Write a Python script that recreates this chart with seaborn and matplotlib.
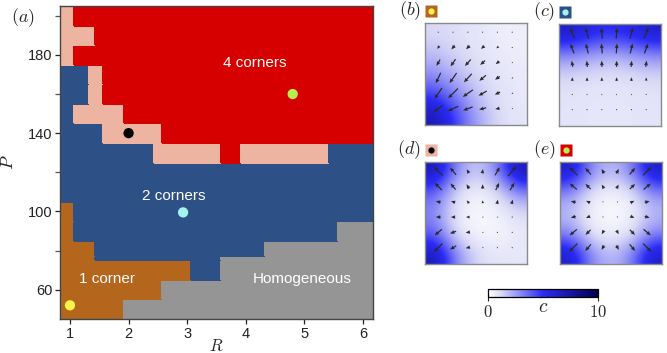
import numpy as np
import matplotlib
matplotlib.use("Agg")
import matplotlib.pyplot as plt
from matplotlib.colors import ListedColormap, LinearSegmentedColormap, BoundaryNorm
from matplotlib.ticker import FixedLocator
import seaborn as sns

# ---------------- phase diagram data ----------------
R_edges = [0.83, 1.07, 1.32, 1.43, 1.57, 1.92, 2.43, 2.57, 3.07, 3.57, 3.92, 4.32, 5.42, 5.57, 6.17]
P_edges = [205, 195, 185, 175, 165, 155, 145, 135, 125, 105, 95, 85, 77, 75, 65, 55, 45]
# one string per P band (top to bottom), one character per R band
# H = homogeneous, 1 = one corner, 2 = two corners, T = transition, 4 = four corners
phase_rows = [
    "T4444444444444",
    "TTT44444444444",
    "T4444444444444",
    "22TT4444444444",
    "22TT4444444444",
    "2TTTT444444444",
    "2222TTT4444444",
    "222222TTT4TT22",
    "22222222222222",
    "12222222222222",
    "1222222222222H",
    "11122222222HHH",
    "111222222HHHHH",
    "111111112HHHHH",
    "1111111HHHHHHH",
    "11111HHHHHHHHH",
]
phase_codes = "H12T4"
phase_colors = ["#959595", "#b3661c", "#2d5087", "#ecb4a1", "#d60000"]

region_labels = ["4 corners", "2 corners", "1 corner", "Homogeneous"]
label_R = [4.15, 2.77, 1.63, 4.97]
label_P = [176, 108, 65.5, 65.5]

point_names = ["b", "c", "d", "e"]
point_R = [1.0, 2.93, 2.0, 4.8]
point_P = [52, 99.5, 140, 160]
point_colors = ["#fff24a", "#a2f2f0", "#000000", "#b6ef4c"]
point_phase = ["1", "2", "T", "4"]

# ---------------- snapshot panels data ----------------
# concentration c on a coarse 5x5 grid (top row first)
conc = {
    "b": [[1.2, 1.0, 0.8, 0.6, 0.5],
          [1.8, 1.3, 0.9, 0.7, 0.6],
          [2.8, 1.9, 1.2, 0.8, 0.7],
          [4.5, 3.0, 1.7, 1.0, 0.7],
          [7.0, 4.5, 2.4, 1.2, 0.8]],
    "c": [[6.5, 5.5, 5.0, 5.5, 6.3],
          [3.0, 2.5, 2.2, 2.5, 3.0],
          [1.3, 1.1, 1.0, 1.1, 1.3],
          [0.9, 0.8, 0.8, 0.8, 0.9],
          [0.9, 0.8, 0.8, 0.8, 0.9]],
    "d": [[7.0, 3.0, 1.4, 3.0, 7.0],
          [3.8, 1.1, 0.4, 0.9, 3.0],
          [3.0, 0.7, 0.2, 0.4, 1.1],
          [3.8, 0.9, 0.3, 0.3, 0.7],
          [7.0, 3.0, 1.2, 0.8, 0.8]],
    "e": [[6.5, 3.0, 1.8, 3.0, 6.5],
          [3.0, 0.8, 0.4, 0.8, 3.0],
          [1.8, 0.4, 0.1, 0.4, 1.8],
          [3.0, 0.8, 0.4, 0.8, 3.0],
          [6.5, 3.0, 1.8, 3.0, 6.5]],
}

# arrow grid (6x6), rows listed top to bottom
arrow_x = [0.13, 0.275, 0.42, 0.565, 0.71, 0.855]
arrow_y = [0.91, 0.76, 0.61, 0.46, 0.31, 0.16]

arrow_len = {
    "b": [[0.05, 0.05, 0.05, 0.05, 0.05, 0.03],
          [0.25, 0.35, 0.35, 0.30, 0.20, 0.05],
          [0.50, 0.60, 0.60, 0.45, 0.30, 0.10],
          [0.80, 0.85, 0.80, 0.60, 0.40, 0.12],
          [0.90, 0.95, 0.85, 0.65, 0.40, 0.12],
          [0.75, 0.80, 0.70, 0.50, 0.30, 0.10]],
    "c": [[0.80, 0.80, 0.75, 0.75, 0.80, 0.80],
          [0.72, 0.70, 0.68, 0.68, 0.70, 0.72],
          [0.42, 0.42, 0.42, 0.42, 0.42, 0.42],
          [0.25, 0.25, 0.25, 0.25, 0.25, 0.22],
          [0.08, 0.10, 0.10, 0.10, 0.10, 0.08],
          [0.04, 0.04, 0.04, 0.04, 0.04, 0.04]],
    "d": [[0.85, 0.65, 0.30, 0.30, 0.65, 0.90],
          [0.70, 0.55, 0.35, 0.30, 0.55, 0.60],
          [0.35, 0.30, 0.25, 0.20, 0.30, 0.30],
          [0.35, 0.30, 0.25, 0.10, 0.10, 0.05],
          [0.65, 0.45, 0.30, 0.10, 0.05, 0.05],
          [0.80, 0.50, 0.30, 0.10, 0.05, 0.05]],
    "e": [[0.80, 0.60, 0.35, 0.35, 0.60, 0.80],
          [0.65, 0.50, 0.30, 0.30, 0.50, 0.65],
          [0.35, 0.30, 0.10, 0.10, 0.30, 0.35],
          [0.35, 0.30, 0.10, 0.10, 0.30, 0.35],
          [0.65, 0.50, 0.30, 0.30, 0.50, 0.65],
          [0.80, 0.60, 0.35, 0.35, 0.60, 0.80]],
}
# arrow direction in degrees (0 = right, 90 = up)
arrow_ang = {
    "b": [[225, 225, 225, 225, 225, 225],
          [235, 230, 225, 220, 220, 220],
          [240, 235, 228, 222, 218, 215],
          [245, 235, 228, 220, 215, 210],
          [235, 225, 215, 210, 205, 200],
          [215, 205, 200, 195, 190, 185]],
    "c": [[112, 105, 95, 85, 75, 68],
          [110, 104, 95, 86, 76, 70],
          [100, 97, 93, 88, 84, 80],
          [90, 90, 90, 90, 90, 90],
          [90, 90, 90, 90, 90, 90],
          [90, 90, 90, 90, 90, 90]],
    "d": [[135, 130, 120, 80, 60, 50],
          [135, 130, 120, 90, 65, 60],
          [165, 160, 130, 100, 80, 75],
          [180, 180, 180, 180, 180, 180],
          [220, 200, 190, 180, 180, 180],
          [225, 210, 195, 180, 180, 180]],
    "e": [[135, 130, 120, 60, 50, 45],
          [140, 135, 120, 60, 45, 40],
          [165, 155, 135, 45, 25, 15],
          [195, 205, 225, 315, 335, 345],
          [220, 225, 240, 300, 315, 320],
          [225, 230, 240, 300, 310, 315]],
}

# ---------------- figure ----------------
sns.set_theme(style="ticks")
plt.rcParams["font.family"] = ["Liberation Sans", "DejaVu Sans"]
plt.rcParams["mathtext.fontset"] = "cm"

W, H = 667, 353
fig = plt.figure(figsize=(W / 100, H / 100), dpi=100)
fig.patch.set_facecolor("white")


def px_axes(x0, y0, x1, y1):
    return fig.add_axes([x0 / W, 1 - y1 / H, (x1 - x0) / W, (y1 - y0) / H])


# main phase diagram
ax = px_axes(60, 6, 373, 319)
Z = np.array([[phase_codes.index(ch) for ch in row] for row in phase_rows[::-1]])
cmap_phase = ListedColormap(phase_colors)
norm_phase = BoundaryNorm(np.arange(-0.5, 5.5, 1), cmap_phase.N)
ax.pcolormesh(R_edges, P_edges[::-1], Z, cmap=cmap_phase, norm=norm_phase,
              shading="flat", edgecolor="face", linewidth=0.2)

palette = {n: c for n, c in zip(point_names, point_colors)}
sns.scatterplot(x=point_R, y=point_P, hue=point_names, palette=palette, s=55,
                linewidth=0, legend=False, ax=ax, zorder=3)

for txt, r, p in zip(region_labels, label_R, label_P):
    ax.text(r, p, txt, color="white", fontsize=11, ha="center", va="center")

ax.set_xlim(R_edges[0], R_edges[-1])
ax.set_ylim(45, 205)
ax.set_xticks([1, 2, 3, 4, 5, 6])
ax.set_yticks([60, 100, 140, 180])
ax.yaxis.set_minor_locator(FixedLocator([80, 120, 160, 200]))
ax.tick_params(axis="both", which="both", direction="out", length=3.5, width=0.9,
               labelsize=10.5, colors="#222222", pad=2)
ax.tick_params(axis="y", which="minor", length=3.5, color="#555555")
for s in ax.spines.values():
    s.set_visible(True)
    s.set_color("#444444")
    s.set_linewidth(1.0)
ax.set_xlabel(r"$R$", fontsize=12, labelpad=-2)
ax.set_ylabel(r"$P$", fontsize=13, labelpad=8)
fig.text(23 / W, 1 - 18 / H, r"$(a)$", fontsize=13, ha="center", va="center")

# concentration colormap
cmap_c = LinearSegmentedColormap.from_list(
    "conc", [(0, "#ffffff"), (0.12, "#d9d9f7"), (0.5, "#2b2bf5"), (1, "#00004e")])

panel_boxes = {"b": (425, 23, 527, 125), "c": (559, 24, 661, 126),
               "d": (425, 162, 527, 264), "e": (560, 162, 662, 264)}

AX, AY = np.meshgrid(arrow_x, arrow_y)
im = None
for name, phase, pcol in zip(point_names, point_phase, point_colors):
    x0, y0, x1, y1 = panel_boxes[name]
    pax = px_axes(x0, y0, x1, y1)
    im = pax.imshow(np.array(conc[name]), cmap=cmap_c, vmin=0, vmax=10,
                    extent=[0, 1, 0, 1], origin="upper", interpolation="bicubic",
                    aspect="auto")
    L = np.array(arrow_len[name])
    A = np.deg2rad(np.array(arrow_ang[name]))
    pax.quiver(AX, AY, L * np.cos(A), L * np.sin(A), angles="xy", scale_units="xy",
               scale=7.0, pivot="middle", color="#2a2a2a", width=0.012,
               headwidth=3.2, headlength=3.8, headaxislength=3.4)
    pax.set_xlim(0, 1)
    pax.set_ylim(0, 1)
    pax.set_xticks([])
    pax.set_yticks([])
    for s in pax.spines.values():
        s.set_color("#8a8a8a")
        s.set_linewidth(1.0)
    # panel tag and phase marker
    fig.text((x0 - 4) / W, 1 - (y0 - 12) / H, rf"$({name})$", fontsize=13,
             ha="right", va="center")
    mx, my = (x0 + 6) / W, 1 - (y0 - 12) / H
    fig.lines.append(plt.Line2D([mx], [my], marker="s", markersize=8,
                                markerfacecolor=phase_colors[phase_codes.index(phase)],
                                markeredgecolor="none", transform=fig.transFigure))
    fig.lines.append(plt.Line2D([mx], [my], marker="o", markersize=4.5,
                                markerfacecolor=pcol, markeredgecolor="none",
                                transform=fig.transFigure))

# colorbar
cax = px_axes(488, 289, 598, 297)
cb = fig.colorbar(im, cax=cax, orientation="horizontal", ticks=[0, 10])
cb.set_ticklabels([r"$0$", r"$10$"])
cb.outline.set_edgecolor("black")
cb.outline.set_linewidth(0.9)
cax.tick_params(labelsize=12, length=3, width=0.8, pad=2)
fig.text(543 / W, 1 - 307 / H, r"$c$", fontsize=14, ha="center", va="center")

fig.savefig("out.png", dpi=100, facecolor="white")
